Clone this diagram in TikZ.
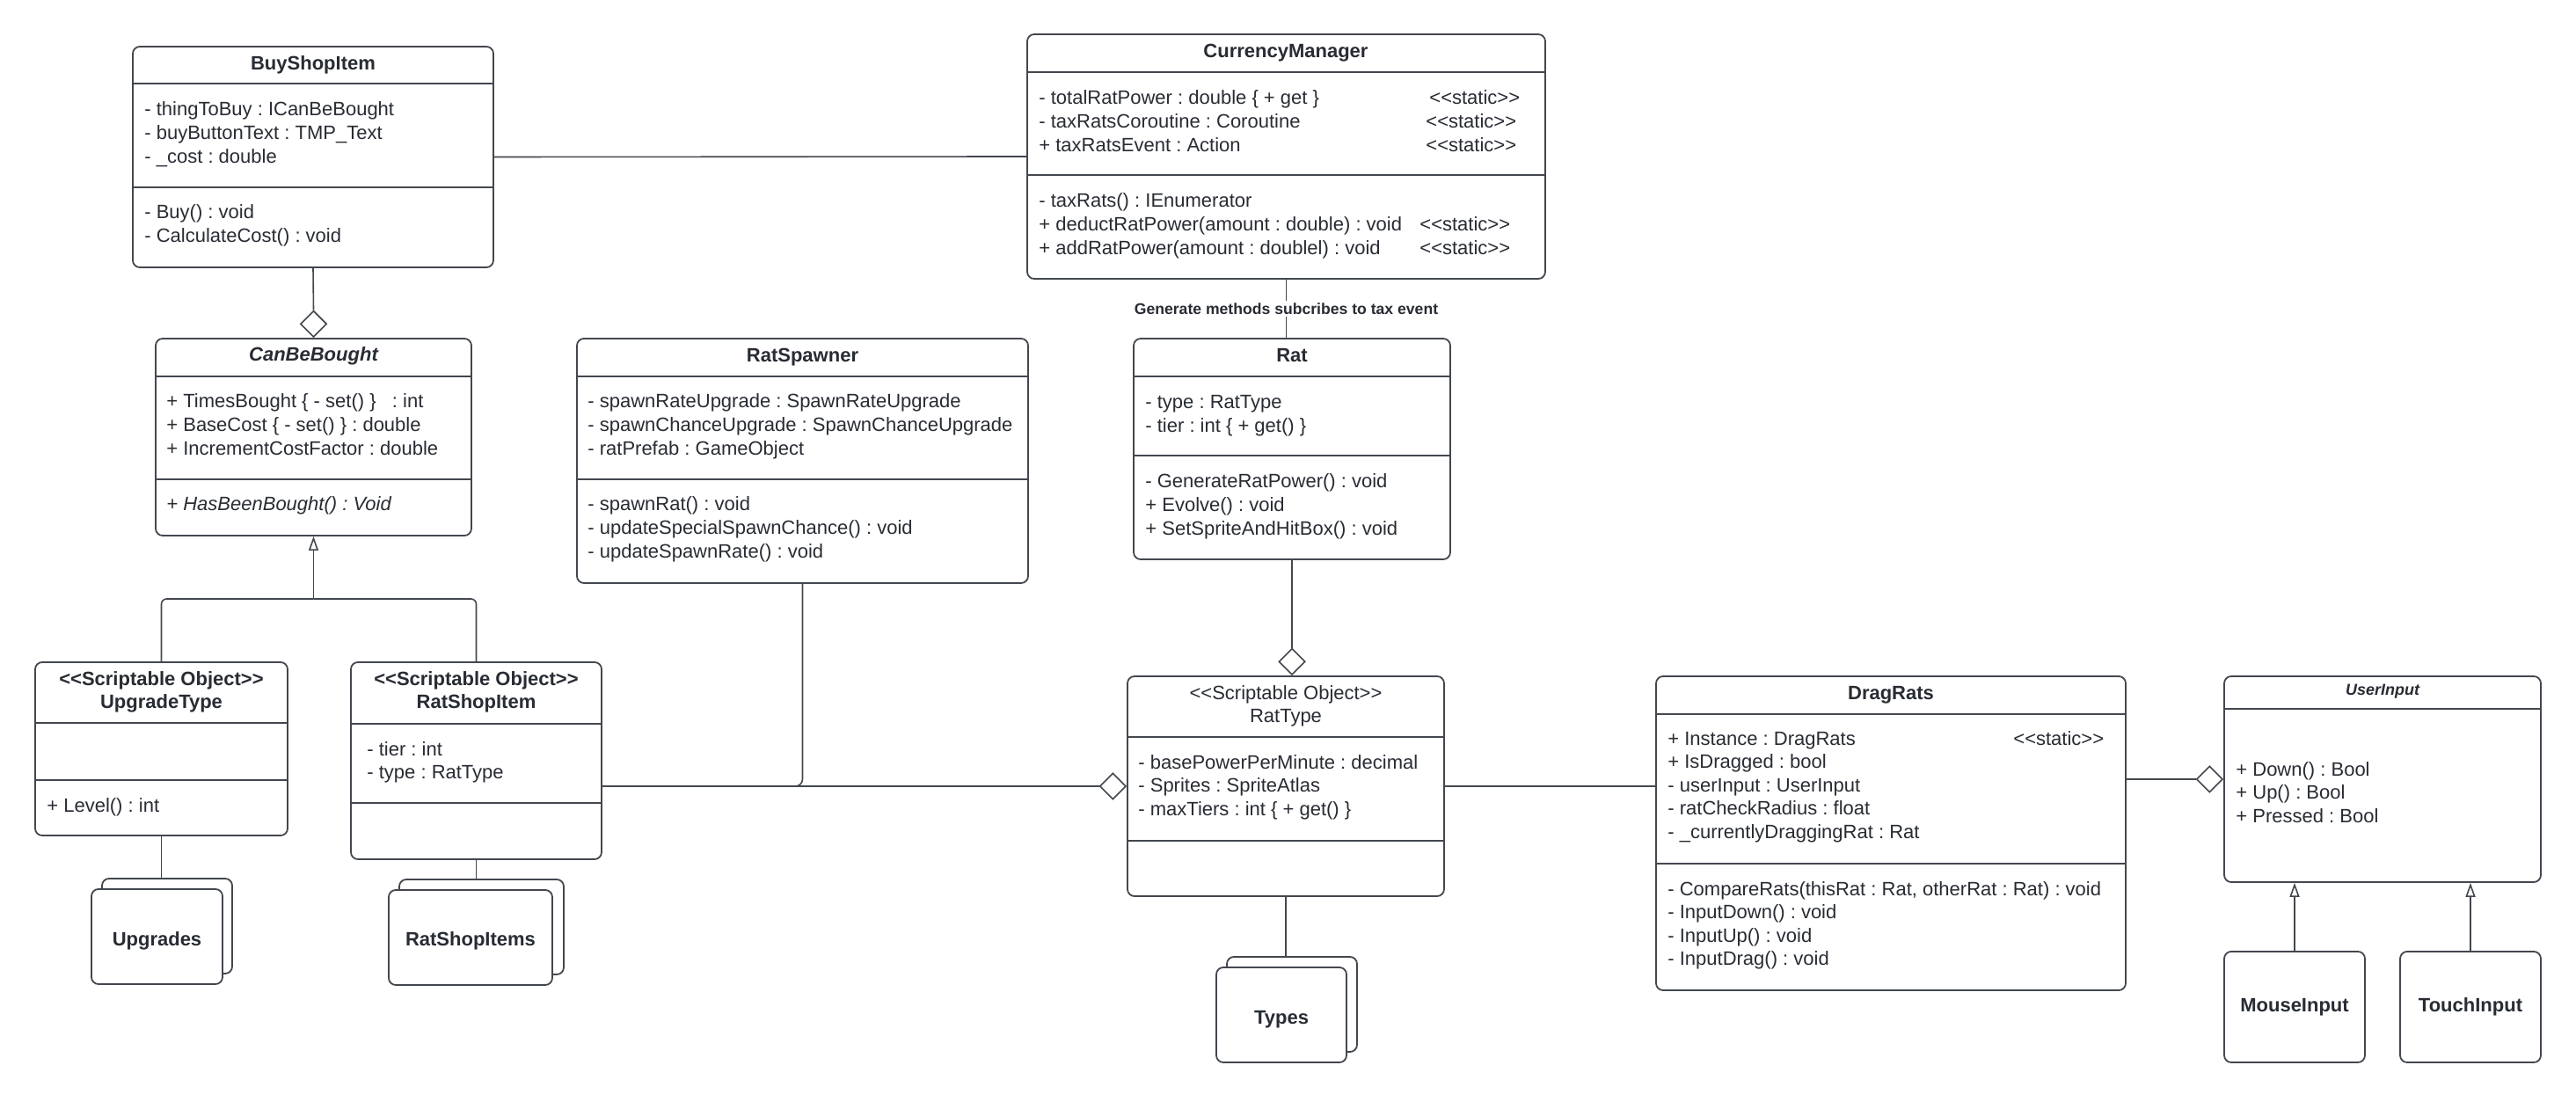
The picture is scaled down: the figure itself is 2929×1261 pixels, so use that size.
\documentclass[tikz,border=0pt]{standalone}
\usepackage{fontspec}
\setmainfont{Liberation Sans}
\usetikzlibrary{shapes.geometric,arrows.meta,fit}
\definecolor{ink}{HTML}{282C33}
\definecolor{lc}{HTML}{43474E}
\newcommand\fsz{\fontsize{11}{13}\selectfont\frenchspacing}
\newcommand\dlt{<\kern0pt<}
\newcommand\dgt{>\kern0pt>}
\newcommand\rowsat[4]{\foreach \t [count=\i] in {#4}{\node[txt] (#1\i) at (#2,{#3+(\i-1)*26.6}) {\t};}}
\tikzset{
 box/.style={draw=lc, line width=0.9pt, rounded corners=4pt, inner sep=0pt, fill=white},
 txt/.style={anchor=base west, inner sep=0pt, text=ink, font=\fsz},
 ttl/.style={anchor=base, inner sep=0pt, text=ink, font=\fsz\bfseries},
 sep/.style={draw=lc, line width=0.9pt},
 con/.style={draw=lc, line width=0.8pt},
 agg/.style={diamond, draw=lc, line width=0.8pt, fill=white, inner sep=0pt, minimum width=15pt, minimum height=15pt, aspect=1},
 inh/.style={con, -{Triangle[open, length=8pt, width=5.5pt]}},
 lbl/.style={fill=white, inner sep=1.5pt, text=ink, font=\fontsize{8.8}{10}\selectfont\bfseries\frenchspacing},
}
\begin{document}
\begin{tikzpicture}[x=0.5pt,y=-0.5pt]
\fill[white] (0,0) rectangle (2929,1261);
\useasboundingbox (0,0) rectangle (2929,1261);

% ---------- BuyShopItem
\node[box, fit={(151,53) (561,304)}] (buy) {};
\draw[sep] (151,95) -- (561,95);
\draw[sep] (151,213) -- (561,213);
\node[ttl] (buyT) at (356,80) {BuyShopItem};
\rowsat{buyA}{164}{132}{- thingToBuy : ICanBeBought, - buyButtonText : TMP\_Text, - \_cost : double}
\rowsat{buyM}{164}{249}{- Buy() : void, - CalculateCost() : void}

% ---------- CurrencyManager
\node[box, fit={(1168,39) (1757,317)}] (cm) {};
\draw[sep] (1168,82) -- (1757,82);
\draw[sep] (1168,199) -- (1757,199);
\node[ttl] (cmT) at (1462,66) {CurrencyManager};
\rowsat{cmA}{1181}{119}{- totalRatPower : double \{ + get \}, - taxRatsCoroutine : Coroutine, + taxRatsEvent : Action}
\node[txt] (cmS1) at (1625,119) {\dlt static\dgt};
\node[txt] (cmS2) at (1621,145.6) {\dlt static\dgt};
\node[txt] (cmS3) at (1621,172.2) {\dlt static\dgt};
\rowsat{cmM}{1181}{236}{- taxRats() : IEnumerator, + deductRatPower(amount : double) : void, + addRatPower(amount : doublel) : void}
\node[txt] (cmS4) at (1614,262.6) {\dlt static\dgt};
\node[txt] (cmS5) at (1614,289.2) {\dlt static\dgt};

% ---------- CanBeBought
\node[box, fit={(177,385) (536,609)}] (cbb) {};
\draw[sep] (177,428) -- (536,428);
\draw[sep] (177,545) -- (536,545);
\node[ttl, font=\fsz\bfseries\itshape] (cbbT) at (356.5,411) {CanBeBought};
\rowsat{cbbA}{189}{464}{+ TimesBought \{ - set() \} \ \ : int, + BaseCost \{ - set() \} : double, + IncrementCostFactor : double}
\node[txt, font=\fsz\itshape] (cbbM1) at (189,581) {+ HasBeenBought() : Void};

% ---------- RatSpawner
\node[box, fit={(656,385) (1169,663)}] (rsp) {};
\draw[sep] (656,428) -- (1169,428);
\draw[sep] (656,545) -- (1169,545);
\node[ttl] (rspT) at (912.5,412) {RatSpawner};
\rowsat{rspA}{668}{464}{- spawnRateUpgrade : SpawnRateUpgrade, - spawnChanceUpgrade : SpawnChanceUpgrade, - ratPrefab : GameObject}
\rowsat{rspM}{668}{581}{- spawnRat() : void, - updateSpecialSpawnChance() : void, - updateSpawnRate() : void}

% ---------- Rat
\node[box, fit={(1289,385) (1649,636)}] (rat) {};
\draw[sep] (1289,428) -- (1649,428);
\draw[sep] (1289,518) -- (1649,518);
\node[ttl] (ratT) at (1469,412) {Rat};
\rowsat{ratA}{1302}{465}{- type : RatType, - tier : int \{ + get() \}}
\rowsat{ratM}{1302}{555}{- GenerateRatPower() : void, + Evolve() : void, + SetSpriteAndHitBox() : void}

% ---------- UpgradeType
\node[box, fit={(40,753) (327,950)}] (upg) {};
\draw[sep] (40,822) -- (327,822);
\draw[sep] (40,887) -- (327,887);
\node[ttl] (upgT1) at (183.5,779) {\dlt Scriptable Object\dgt};
\node[ttl] (upgT2) at (183.5,805) {UpgradeType};
\node[txt] (upgM1) at (53,923) {+ Level() : int};

% ---------- RatShopItem
\node[box, fit={(399,753) (684,977)}] (rsi) {};
\draw[sep] (399,823) -- (684,823);
\draw[sep] (399,913) -- (684,913);
\node[ttl] (rsiT1) at (541.5,779) {\dlt Scriptable Object\dgt};
\node[ttl] (rsiT2) at (541.5,805) {RatShopItem};
\rowsat{rsiA}{417}{859}{- tier : int, - type : RatType}

% ---------- stacks
\node[box, fit={(116,999) (264,1107)}] (upsB) {};
\node[box, fit={(104,1011) (253,1119)}] (upsF) {};
\node[ttl] (upsL) at (178.5,1075) {Upgrades};
\node[box, fit={(454,1000) (641,1108)}] (rsisB) {};
\node[box, fit={(442,1012) (628,1120)}] (rsisF) {};
\node[ttl] (rsisL) at (535,1075) {RatShopItems};

% ---------- RatType
\node[box, fit={(1282,769) (1642,1019)}] (rt) {};
\draw[sep] (1282,838) -- (1642,838);
\draw[sep] (1282,956) -- (1642,956);
\node[ttl, font=\fsz] (rtT1) at (1462,795) {\dlt Scriptable Object\dgt};
\node[ttl, font=\fsz] (rtT2) at (1462,821) {RatType};
\rowsat{rtA}{1294}{874}{- basePowerPerMinute : decimal, - Sprites : SpriteAtlas, - maxTiers : int \{ + get() \}}
\node[box, fit={(1395,1088) (1543,1196)}] (tyB) {};
\node[box, fit={(1383,1100) (1531,1208)}] (tyF) {};
\node[ttl] (tyL) at (1457,1164) {Types};

% ---------- DragRats
\node[box, fit={(1883,769) (2417,1126)}] (dr) {};
\draw[sep] (1883,812) -- (2417,812);
\draw[sep] (1883,982) -- (2417,982);
\node[ttl] (drT) at (2150,795) {DragRats};
\rowsat{drA}{1896}{847}{+ Instance : DragRats, + IsDragged : bool, - userInput : UserInput, - ratCheckRadius : float, - \_currentlyDraggingRat : Rat}
\node[txt] (drS) at (2289,847) {\dlt static\dgt};
\rowsat{drM}{1896}{1018}{{- CompareRats(thisRat : Rat, otherRat : Rat) : void}, - InputDown() : void, - InputUp() : void, - InputDrag() : void}

% ---------- UserInput
\node[box, fit={(2529,769) (2889,1003)}] (ui) {};
\draw[sep] (2529,806) -- (2889,806);
\node[ttl, font=\fontsize{9}{11}\selectfont\bfseries\itshape] (uiT) at (2709,790) {UserInput};
\rowsat{uiA}{2542}{882}{+ Down() : Bool, + Up() : Bool, + Pressed : Bool}
\node[box, fit={(2529,1082) (2689,1208)}] (mi) {};
\node[ttl] (miL) at (2609,1150) {MouseInput};
\node[box, fit={(2729,1082) (2889,1208)}] (ti) {};
\node[ttl] (tiL) at (2809,1150) {TouchInput};

% ---------- aggregation diamonds
\node[agg, anchor=south] (d1) at (cbb.north) {};
\node[agg, anchor=east] (d2) at (rt.west) {};
\node[agg, anchor=south] (d3) at (rat.south |- rt.north) {};
\node[agg, anchor=east] (d4) at (ui.west) {};

% ---------- connectors
\draw[con] (buy.east) -- (cm.west);
\draw[con] (buy.south) -- (d1.north);
\draw[con] (cm.south) -- node[lbl] (taxL) {Generate methods subcribes to tax event} (cm.south |- rat.north);
\coordinate (split) at (356.5,681);
\draw[inh] (split) -- (cbb.south);
\draw[con, rounded corners=3pt] (upg.north) |- (split);
\draw[con, rounded corners=3pt] (rsi.north) |- (split);
\draw[con] (upg.south) -- (upg.south |- upsB.north);
\draw[con] (rsi.south) -- (rsi.south |- rsisB.north);
\draw[con] (d2.west) -- (d2.west -| rsi.east);
\draw[con, rounded corners=4pt] (rsp.south) |- (d2.west -| rsi.east);
\draw[con] (rat.south) -- (d3.north);
\draw[con] (rt.south) -- (rt.south |- tyB.north);
\draw[con] (rt.east) -- (rt.east -| dr.west);
\draw[con] (d4.west) -- (d4.west -| dr.east);
\draw[inh] (mi.north) -- (mi.north |- ui.south);
\draw[inh] (ti.north) -- (ti.north |- ui.south);
\end{tikzpicture}
\end{document}
